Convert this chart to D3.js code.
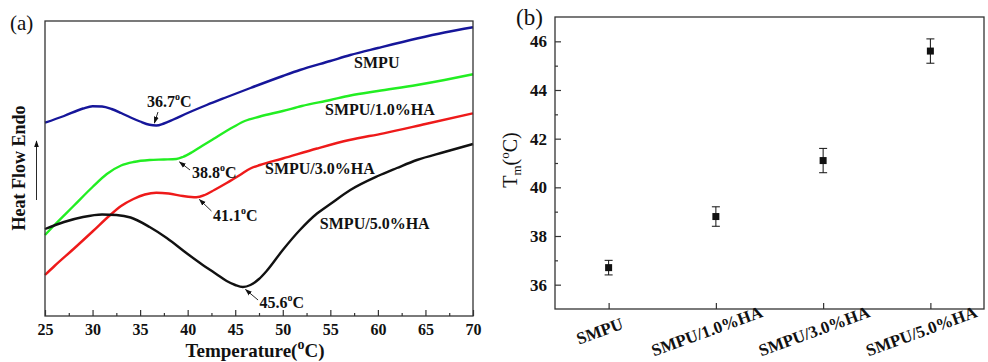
<!DOCTYPE html>
<html><head><meta charset="utf-8">
<script src="https://cdn.jsdelivr.net/npm/d3@7"></script>
<style>body{margin:0;background:#fff}svg{display:block}</style>
</head><body>
<svg id="c" width="988" height="362"></svg>
<script>
// ---------- DATA ----------
// Panel (a): DSC curves, [temperature °C, heat flow (arbitrary units, endo up)]
const smpu = [[25,193.3],[27,200],[29,207.5],[30,209.8],[31,209.5],[32,207],[33,203],[34,198.5],[35,194.5],[36,191.2],[36.7,190.5],[37.5,192.5],[38.5,196.5],[40,203],[42,211],[44,218.5],[46.6,228],[50,240],[51.8,246],[55,255],[57.1,261],[60,268],[64.1,277.5],[67,283.5],[70,288.7]];
const smpu1 = [[25,81],[26,91],[28,110],[30,129],[31.5,142],[33,150.5],[34.3,154],[36,156],[37.5,156.5],[38.8,157],[39.5,159],[40.5,164],[41.5,170],[42.7,177],[44.8,189],[46,195],[47.6,199.5],[50,205],[52,210],[55,216],[57.1,220.5],[60,225],[64.1,231],[67,236],[70,241.7]];
const smpu3 = [[25,41],[26,50],[28,67],[30,84.5],[31.8,100.5],[33,110],[34.3,117],[35.5,121.5],[36.7,123.3],[38,122.5],[39.5,120],[40.9,118.7],[41.8,121],[42.8,126],[44.1,133],[45.5,141],[46.6,147.5],[47.6,151],[50,157.5],[53.6,167.5],[57,176],[60.6,182.7],[65,192],[70,202.7]];
const smpu5 = [[25,87],[27,94],[29,99],[31,101.5],[32.5,101],[34,98.5],[36,89],[37.8,78],[40,62],[41.3,53],[43,42],[44.1,35],[45,31],[45.8,29],[46.6,31],[47.5,37],[48.3,45],[50,66],[51.8,86],[53.6,102.5],[55,112],[57.1,126],[60,140],[62,148],[64.1,156],[67,164],[70,172]];
const seriesNames = ["SMPU","SMPU/1.0%HA","SMPU/3.0%HA","SMPU/5.0%HA"];
const seriesColors = ["#16169a","#22ee22","#ee1a1a","#111111"];
const tempTicks = [25,30,35,40,45,50,55,60,65,70];
const tempMinor = [27.5,32.5,37.5,42.5,47.5,52.5,57.5,62.5,67.5];
const peakLabels = ["36.7","38.8","41.1","45.6"];

// Panel (b): melting temperature
const categories = ["SMPU","SMPU/1.0%HA","SMPU/3.0%HA","SMPU/5.0%HA"];
const tmValues = [36.7,38.8,41.1,45.6];
const tmErrors = [0.3,0.4,0.5,0.5];
const tmTicks = [36,38,40,42,44,46];
const tmMinor = [37,39,41,43,45];

// ---------- DRAW ----------
const svg = d3.select("#c");
const FONT = "'Liberation Serif','Times New Roman',serif";
const ink = "#111";

svg.append("defs").append("marker")
  .attr("id","arr").attr("viewBox","0 0 10 10").attr("refX",9).attr("refY",5)
  .attr("markerWidth",7).attr("markerHeight",7).attr("orient","auto-start-reverse")
  .attr("markerUnits","userSpaceOnUse")
  .append("path").attr("d","M0,1.5 L10,5 L0,8.5 Z").attr("fill",ink);

// ===== Panel (a) =====
const ax = d3.scaleLinear([25,70],[45,473]);
const ay = d3.scaleLinear([0,295],[316,21]);
const ga = svg.append("g");

const line = d3.line().x(d=>ax(d[0])).y(d=>ay(d[1])).curve(d3.curveMonotoneX);
[smpu, smpu1, smpu3, smpu5].forEach((s,i)=>{
  ga.append("path").datum(s).attr("d",line).attr("fill","none")
    .attr("stroke",seriesColors[i]).attr("stroke-width",2.4);
});

ga.append("rect").attr("x",ax(25)).attr("y",ay(295)).attr("width",ax(70)-ax(25)).attr("height",ay(0)-ay(295))
  .attr("fill","none").attr("stroke","#333").attr("stroke-width",1.3);

const xa = ga.append("g").attr("transform",`translate(0,${ay(0)})`)
  .call(d3.axisBottom(ax).tickValues(tempTicks).tickSize(-6).tickSizeOuter(0).tickPadding(8));
xa.select(".domain").remove();
xa.selectAll("text").attr("font-family",FONT).attr("font-weight","bold").attr("font-size",16).attr("fill",ink);
xa.selectAll("line").attr("stroke","#333").attr("stroke-width",1.2);
const xm = ga.append("g").attr("transform",`translate(0,${ay(0)})`)
  .call(d3.axisBottom(ax).tickValues(tempMinor).tickSize(-3).tickFormat(""));
xm.select(".domain").remove();
xm.selectAll("line").attr("stroke","#333").attr("stroke-width",1.2);

// axis titles
const xt = ga.append("text").attr("x",255).attr("y",357).attr("text-anchor","middle")
  .attr("font-family",FONT).attr("font-weight","bold").attr("font-size",19).attr("fill",ink);
xt.append("tspan").text("Temperature(");
xt.append("tspan").attr("font-size",14).attr("dy",-8).text("o");
xt.append("tspan").attr("dy",8).text("C)");

ga.append("text").attr("transform","translate(25,168) rotate(-90)").attr("text-anchor","middle")
  .attr("font-family",FONT).attr("font-weight","bold").attr("font-size",18).attr("fill",ink)
  .text("Heat Flow Endo");
ga.append("line").attr("x1",36.5).attr("x2",36.5).attr("y1",200).attr("y2",141)
  .attr("stroke",ink).attr("stroke-width",0.9).attr("marker-end","url(#arr)");

svg.append("text").attr("x",10).attr("y",30).attr("font-family",FONT).attr("font-size",21).attr("fill",ink).text("(a)");

// series labels (data coordinates)
const seriesLabelPos = [[57.5,248.3],[54.44,201],[48.13,142],[53.9,86.7]];
seriesNames.forEach((n,i)=>{
  ga.append("text").attr("x",ax(seriesLabelPos[i][0])).attr("y",ay(seriesLabelPos[i][1]))
    .attr("font-family",FONT).attr("font-weight","bold").attr("font-size",16).attr("fill",ink).text(n);
});

// peak annotations
const peakText = [[35.72,209],[40.45,138],[42.66,95],[47.55,8]];
const peakFrom = [[36.88,204],[40.25,146],[42.5,105],[47.4,16]];
const peakTip  = [[36.5,193],[39.14,154],[41.24,116.5],[46.08,26.5]];
peakLabels.forEach((p,i)=>{
  ga.append("line").attr("x1",ax(peakFrom[i][0])).attr("y1",ay(peakFrom[i][1]))
    .attr("x2",ax(peakTip[i][0])).attr("y2",ay(peakTip[i][1]))
    .attr("stroke",ink).attr("stroke-width",0.9).attr("marker-end","url(#arr)");
  const t = ga.append("text").attr("x",ax(peakText[i][0])).attr("y",ay(peakText[i][1]))
    .attr("font-family",FONT).attr("font-weight","bold").attr("font-size",16).attr("fill",ink);
  t.append("tspan").text(p);
  t.append("tspan").attr("font-size",10).attr("dy",-7).text("o");
  t.append("tspan").attr("dy",7).text("C");
});

// ===== Panel (b) =====
const bx = d3.scalePoint(categories,[555,984]).padding(0.5);
const by = d3.scaleLinear([35,47],[309,17]);
const gb = svg.append("g");

gb.append("rect").attr("x",555).attr("y",by(47)).attr("width",984-555).attr("height",by(35)-by(47))
  .attr("fill","none").attr("stroke","#333").attr("stroke-width",1.3);

const ya = gb.append("g").attr("transform","translate(555,0)")
  .call(d3.axisLeft(by).tickValues(tmTicks).tickSize(-6).tickSizeOuter(0).tickPadding(8));
ya.select(".domain").remove();
ya.selectAll("text").attr("font-family",FONT).attr("font-weight","bold").attr("font-size",17).attr("fill",ink);
ya.selectAll("line").attr("stroke","#333").attr("stroke-width",1.2);
const ym = gb.append("g").attr("transform","translate(555,0)")
  .call(d3.axisLeft(by).tickValues(tmMinor).tickSize(-3).tickFormat(""));
ym.select(".domain").remove();
ym.selectAll("line").attr("stroke","#333").attr("stroke-width",1.2);

const xb = gb.append("g").attr("transform",`translate(0,${by(35)})`)
  .call(d3.axisBottom(bx).tickSize(-6).tickSizeOuter(0).tickFormat(""));
xb.select(".domain").remove();
xb.selectAll("line").attr("stroke","#333").attr("stroke-width",1.2);

categories.forEach(c=>{
  gb.append("text").attr("transform",`translate(${bx(c)-9},331) rotate(-20)`)
    .attr("text-anchor","middle").attr("dy","0.35em")
    .attr("font-family",FONT).attr("font-weight","bold").attr("font-size",17).attr("fill",ink).text(c);
});

// error bars & markers
categories.forEach((c,i)=>{
  const x = bx(c), v = tmValues[i], e = tmErrors[i];
  gb.append("line").attr("x1",x).attr("x2",x).attr("y1",by(v-e)).attr("y2",by(v+e)).attr("stroke",ink).attr("stroke-width",1);
  [v-e,v+e].forEach(w=>gb.append("line").attr("x1",x-4).attr("x2",x+4).attr("y1",by(w)).attr("y2",by(w)).attr("stroke",ink).attr("stroke-width",1));
  gb.append("rect").attr("x",x-3.5).attr("y",by(v)-3.5).attr("width",7).attr("height",7).attr("fill",ink);
});

const yl = gb.append("text").attr("transform","translate(517,160) rotate(-90)").attr("text-anchor","middle")
  .attr("font-family",FONT).attr("font-size",20).attr("fill",ink);
yl.append("tspan").text("T");
yl.append("tspan").attr("font-size",13).attr("dy",4).text("m");
yl.append("tspan").attr("dy",-4).text("(");
yl.append("tspan").attr("font-size",13).attr("dy",-8).text("o");
yl.append("tspan").attr("dy",8).text("C)");

svg.append("text").attr("x",516).attr("y",25).attr("font-family",FONT).attr("font-size",23).attr("fill",ink).text("(b)");
</script>
</body></html>
